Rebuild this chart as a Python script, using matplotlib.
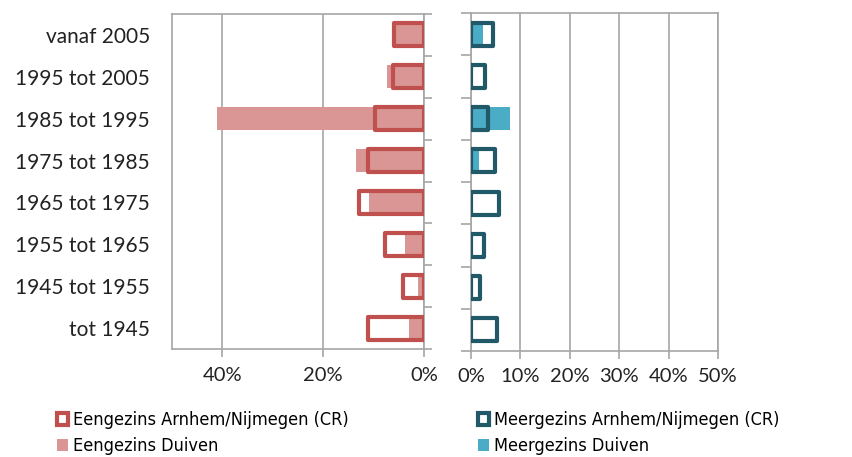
import matplotlib
matplotlib.use("Agg")
import matplotlib.pyplot as plt
from matplotlib.patches import Patch
import numpy as np

plt.rcParams['font.family'] = ['Lato', 'DejaVu Sans']

categories = ["vanaf 2005", "1995 tot 2005", "1985 tot 1995", "1975 tot 1985",
              "1965 tot 1975", "1955 tot 1965", "1945 tot 1955", "tot 1945"]
eengezins_cr = [6.0, 6.1, 9.7, 11.2, 12.9, 7.7, 4.2, 11.1]
eengezins_duiven = [5.5, 7.3, 41.1, 13.4, 10.9, 3.8, 1.2, 3.0]
meergezins_cr = [4.4, 2.9, 3.4, 4.8, 5.6, 2.6, 1.8, 5.3]
meergezins_duiven = [2.5, 0.0, 7.9, 1.7, 0.0, 0.0, 0.0, 0.0]
left_ticks = [40, 20, 0]
right_ticks = [0, 10, 20, 30, 40, 50]

c_ecr = '#c0504d'
c_edv = '#d99694'
c_mcr = '#215968'
c_mdv = '#4bacc6'
grid_c = '#a6a6a6'
txt_c = '#222222'

W, H = 853, 457
fig = plt.figure(figsize=(W/100, H/100), dpi=100)
axL = fig.add_axes([172/W, 1-349/H, (424-172)/W, (349-14)/H])
axR = fig.add_axes([471/W, 1-351/H, (718-471)/W, (351-13)/H])

y = np.arange(len(categories))
bh = 0.55
lw = 3.0
fs = 15

# left panel
axL.barh(y, eengezins_duiven, height=bh, color=c_edv, zorder=2)
axL.barh(y, eengezins_cr, height=bh, facecolor='none', edgecolor=c_ecr,
         linewidth=lw, joinstyle='round', zorder=3)
axL.set_xlim(50, 0)
axL.set_xticks(left_ticks)
axL.set_xticklabels([f"{t}%" for t in left_ticks])
axL.set_ylim(len(categories)-0.5, -0.5)
axL.set_yticks(y)
axL.set_yticklabels(categories)
axL.set_yticks(np.arange(len(categories)+1)-0.5, minor=True)
axL.tick_params(axis='y', which='major', length=0, pad=16, labelsize=fs, colors=txt_c)
axL.tick_params(axis='y', which='minor', left=False, right=True, length=6, width=1.2, color=grid_c)
axL.tick_params(axis='x', which='major', length=6, width=1.2, color=grid_c, labelsize=14.5,
                labelcolor=txt_c, pad=7)
for x in left_ticks:
    axL.axvline(x, color=grid_c, lw=1.2, zorder=1)
for s in axL.spines.values():
    s.set_color(grid_c)
    s.set_linewidth(1.2)

# right panel
axR.barh(y, meergezins_duiven, height=bh, color=c_mdv, zorder=2)
axR.barh(y, meergezins_cr, height=bh, facecolor='none', edgecolor=c_mcr,
         linewidth=lw, joinstyle='round', zorder=3)
axR.set_xlim(0, 50)
axR.set_xticks(right_ticks)
axR.set_xticklabels([f"{t}%" for t in right_ticks])
axR.set_ylim(len(categories)-0.5, -0.5)
axR.set_yticks([])
axR.set_yticks(np.arange(len(categories)+1)-0.5, minor=True)
axR.tick_params(axis='y', which='minor', left=True, length=7, width=1.2, color=grid_c)
axR.tick_params(axis='x', which='major', length=6, width=1.2, color=grid_c, labelsize=14.5,
                labelcolor=txt_c, pad=6)
for x in right_ticks:
    axR.axvline(x, color=grid_c, lw=1.2, zorder=1)
for s in axR.spines.values():
    s.set_color(grid_c)
    s.set_linewidth(1.2)

h1 = [Patch(facecolor='white', edgecolor=c_ecr, linewidth=3),
      Patch(facecolor=c_edv, edgecolor='none')]
h2 = [Patch(facecolor='white', edgecolor=c_mcr, linewidth=3),
      Patch(facecolor=c_mdv, edgecolor='none')]
kw = dict(frameon=False, handlelength=0.6, handleheight=0.6,
          handletextpad=0.25, labelspacing=0.45, loc='upper left', borderaxespad=0,
          prop={'family': 'DejaVu Sans', 'stretch': 'condensed', 'size': 13})
fig.legend(h1, ["Eengezins Arnhem/Nijmegen (CR)", "Eengezins Duiven"],
           bbox_to_anchor=(50/W, 1-404/H), **kw)
fig.legend(h2, ["Meergezins Arnhem/Nijmegen (CR)", "Meergezins Duiven"],
           bbox_to_anchor=(471/W, 1-404/H), **kw)

fig.savefig("out.png", dpi=100)
